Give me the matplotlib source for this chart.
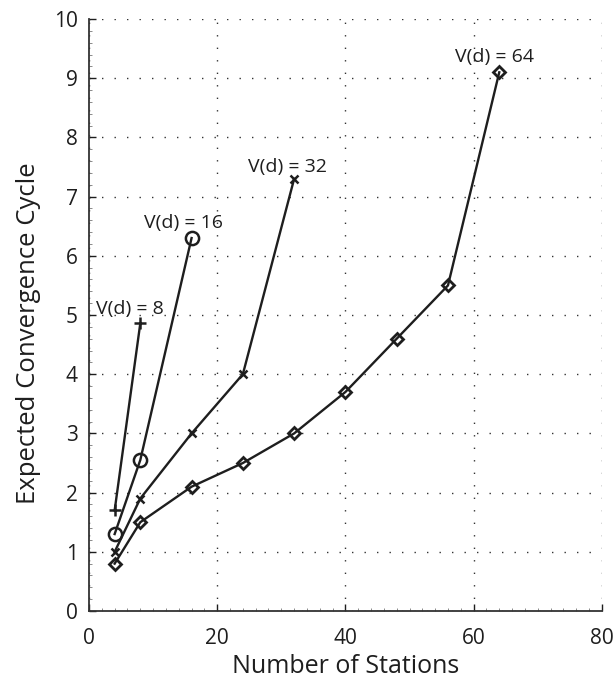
import matplotlib
matplotlib.use("Agg")
import matplotlib.pyplot as plt
from matplotlib.ticker import AutoMinorLocator

plt.rcParams['font.family'] = ['Open Sans', 'DejaVu Sans']

# Expected convergence cycle vs number of stations for each V(d)
x_v8 = [4, 8]
y_v8 = [1.7, 4.86]
x_v16 = [4, 8, 16]
y_v16 = [1.3, 2.55, 6.3]
x_v32 = [4, 8, 16, 24, 32]
y_v32 = [1.0, 1.9, 3.0, 4.0, 7.3]
x_v64 = [4, 8, 16, 24, 32, 40, 48, 56, 64]
y_v64 = [0.8, 1.5, 2.1, 2.5, 3.0, 3.7, 4.6, 5.5, 9.1]

series_labels = ["V(d) = 8", "V(d) = 16", "V(d) = 32", "V(d) = 64"]
label_pos = [(6.4, 5.11), (14.8, 6.55), (31.0, 7.5), (63.2, 9.36)]

x_ticks = [0, 20, 40, 60, 80]
y_ticks = list(range(0, 11))

ink = '#1e1e1e'

fig = plt.figure(figsize=(6.16, 6.84), dpi=100)
ax = fig.add_axes([0.1445, 0.1067, 0.8325, 0.8655])

lw = 1.7
ax.plot(x_v8, y_v8, color=ink, lw=lw, marker='+', ms=8, mew=1.8)
ax.plot(x_v16, y_v16, color=ink, lw=lw, marker='o', ms=9.5, mfc='none', mew=1.8)
ax.plot(x_v32, y_v32, color=ink, lw=lw, marker='x', ms=5.5, mew=1.8)
ax.plot(x_v64, y_v64, color=ink, lw=lw, marker='D', ms=6.5, mfc='none', mew=2.0)

for text, (tx, ty) in zip(series_labels, label_pos):
    ax.text(tx, ty, text, ha='center', va='center', fontsize=14, color=ink)

ax.set_xlim(0, 80)
ax.set_ylim(0, 10)
ax.set_xticks(x_ticks)
ax.set_yticks(y_ticks)
ax.xaxis.set_minor_locator(AutoMinorLocator(10))
ax.yaxis.set_minor_locator(AutoMinorLocator(5))
ax.tick_params(axis='both', which='major', direction='in', length=5, width=1.0,
               labelsize=15, colors=ink)
ax.tick_params(axis='y', which='major', pad=8)
ax.tick_params(axis='x', which='major', pad=12)
ax.tick_params(axis='both', which='minor', direction='in', length=2.5, width=0.6,
               colors='#777777')

ax.grid(True, which='major', linestyle=(0, (1, 8)), color='#333333', linewidth=1.0)
for side in ('top', 'right'):
    ax.spines[side].set_visible(False)
for side in ('left', 'bottom'):
    ax.spines[side].set_linewidth(1.3)
    ax.spines[side].set_color('#333333')

ax.set_xlabel("Number of Stations", fontsize=18, color=ink, labelpad=4)
ax.set_ylabel("Expected Convergence Cycle", fontsize=18.5, color=ink)
ax.yaxis.set_label_coords(-0.094, 0.47)

fig.savefig("out.png", dpi=100)
